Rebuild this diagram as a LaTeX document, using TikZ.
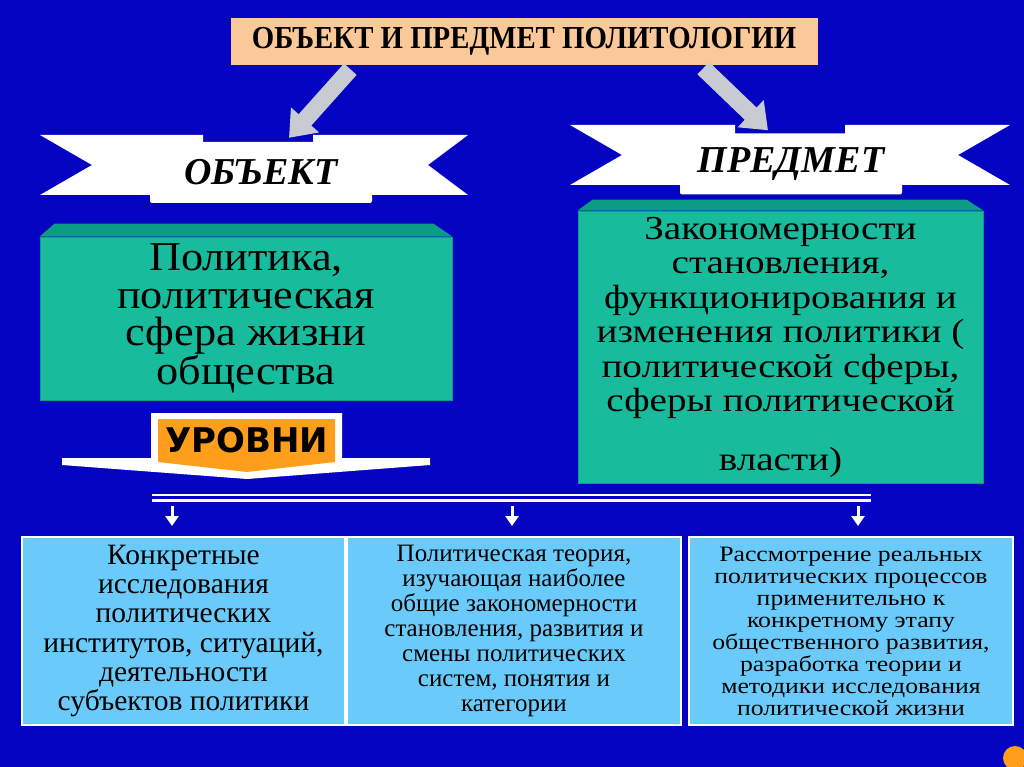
\documentclass[tikz,border=0pt]{standalone}
\usepackage{fontspec}
\setmainfont{Liberation Serif}
\newfontfamily\levelfont{DejaVu Sans}
\newfontfamily\titlefont{Liberation Serif}[FakeStretch=0.9]
\newfontfamily\widefont{Liberation Serif}[FakeStretch=1.08]
\newfontfamily\widerfont{Liberation Serif}[FakeStretch=1.17]
\usetikzlibrary{arrows.meta,positioning,calc}
\definecolor{psBlue}{HTML}{0404C2}
\definecolor{psTitle}{HTML}{FBC999}
\definecolor{psTeal}{HTML}{18BC9C}
\definecolor{psTealDk}{HTML}{0C9C84}
\definecolor{psSky}{HTML}{6ACBFA}
\definecolor{psOrange}{HTML}{FF9E1A}
\definecolor{psGray}{HTML}{C9CBD3}
\tikzset{
  titlebox/.style={rectangle, fill=psTitle, minimum width=587pt, minimum height=47pt,
                   inner sep=0pt, font=\titlefont\fontsize{32}{34}\selectfont\bfseries},
  ribbon/.style={rectangle, rounded corners=2pt, fill=white, minimum width=222pt,
                 minimum height=61pt, inner sep=0pt, font=\fontsize{38}{40}\selectfont\bfseries\itshape},
  tail/.style={fill=white},
  tealbox/.style={rectangle, fill=psTeal, draw=psTealDk, line width=0.8pt, align=center, inner sep=0pt},
  bevel/.style={fill=psTealDk},
  levelbox/.style={rectangle, fill=psSky, draw=white, line width=2pt, align=center,
                   inner sep=0pt, minimum height=188pt},
  grayarrow/.style={-{Triangle[length=24pt,width=36pt]}, draw=psGray, line width=17pt},
  tap/.style={-{Triangle[length=10pt,width=13pt]}, draw=white, line width=3pt},
  busline/.style={draw=white},
}

\begin{document}
\begin{tikzpicture}[x=1pt, y=-1pt]
  \useasboundingbox (0,0) rectangle (1024,767);
  \fill[psBlue] (0,0) rectangle (1024,767);

  % title
  \node[titlebox] (title) at (524,41.5) {ОБЪЕКТ И ПРЕДМЕТ ПОЛИТОЛОГИИ};

  % ribbons
  \fill[tail] (40,135) -- (203,135) -- (203,195) -- (40,195) -- (92,165) -- cycle;
  \fill[tail] (313,135) -- (468,135) -- (428,165) -- (468,195) -- (313,195) -- cycle;
  \node[ribbon] (object) at (261,172.5) {ОБЪЕКТ};
  \fill[tail] (570,125) -- (735,125) -- (735,185) -- (570,185) -- (622,155) -- cycle;
  \fill[tail] (845,125) -- (1010,125) -- (958,155) -- (1010,185) -- (845,185) -- cycle;
  \node[ribbon] (subject) at (791,164) {ПРЕДМЕТ};

  \draw[grayarrow] ($(title.south west)+(120,4)$) -- ($(object.north)+(28,-4)$);
  \draw[grayarrow] ($(title.south west)+(473,3)$) -- ($(subject.north)+(-23,-3)$);

  % teal boxes
  \node[tealbox, minimum width=412pt, minimum height=163pt,
        font=\widefont\fontsize{41}{37.7}\selectfont] (politics) at (246,318.5)
        {Политика,\\политическая\\сфера жизни\\общества};
  \fill[bevel] (politics.north west) -- ++(15,-13) -- ($(politics.north east)+(-19,-13)$)
        -- (politics.north east) -- cycle;
  \node[tealbox, minimum width=405pt, minimum height=272pt,
        font=\widerfont\fontsize{33.5}{34.5}\selectfont] (laws) at (780.5,347)
        {Закономерности\\становления,\\функционирования и\\изменения политики (\\политической сферы,\\сферы политической\\[24pt]власти)};
  \fill[bevel] (laws.north west) -- ++(15,-11) -- ($(laws.north east)+(-17,-11)$)
        -- (laws.north east) -- cycle;

  % levels arrow
  \fill[white] (151,413) -- (342,413) -- (342,458) -- (430,458) -- (430,465) -- (247,479)
        -- (62,465) -- (62,458) -- (151,458) -- cycle;
  \fill[psOrange] (158,419) -- (335,419) -- (335,462) -- (247,472) -- (158,462) -- cycle;
  \node[font=\levelfont\bfseries\fontsize{34}{36}\selectfont] (levels) at (247,440) {УРОВНИ};

  % bus
  \draw[busline, line width=1.5pt] (152,495) -- (871,495);
  \draw[busline, line width=2.5pt] (152,500.5) -- (871,500.5);
  \coordinate (tap1) at (172,502);
  \coordinate (tap2) at (512,502);
  \coordinate (tap3) at (858,502);

  % levels
  \node[levelbox, minimum width=323pt, font=\fontsize{29.5}{29.2}\selectfont] (lev1) at (183.5,631)
        {Конкретные\\исследования\\политических\\институтов, ситуаций,\\деятельности\\субъектов политики};
  \node[levelbox, minimum width=334pt, font=\fontsize{25}{25}\selectfont] (lev2) at (514,631)
        {Политическая теория,\\изучающая наиболее\\общие закономерности\\становления, развития и\\смены политических\\систем, понятия и\\категории};
  \node[levelbox, minimum width=324pt, font=\widerfont\fontsize{22}{22}\selectfont] (lev3) at (851,631)
        {Рассмотрение реальных\\политических процессов\\применительно к\\конкретному этапу\\общественного развития,\\разработка теории и\\методики исследования\\политической жизни};

  \draw[tap, shorten <=4pt, shorten >=10pt] (tap1) -- (tap1 |- lev1.north);
  \draw[tap, shorten <=4pt, shorten >=10pt] (tap2) -- (tap2 |- lev2.north);
  \draw[tap, shorten <=4pt, shorten >=10pt] (tap3) -- (tap3 |- lev3.north);

  \fill[psOrange] (1015,758) circle (12);
\end{tikzpicture}
\end{document}
